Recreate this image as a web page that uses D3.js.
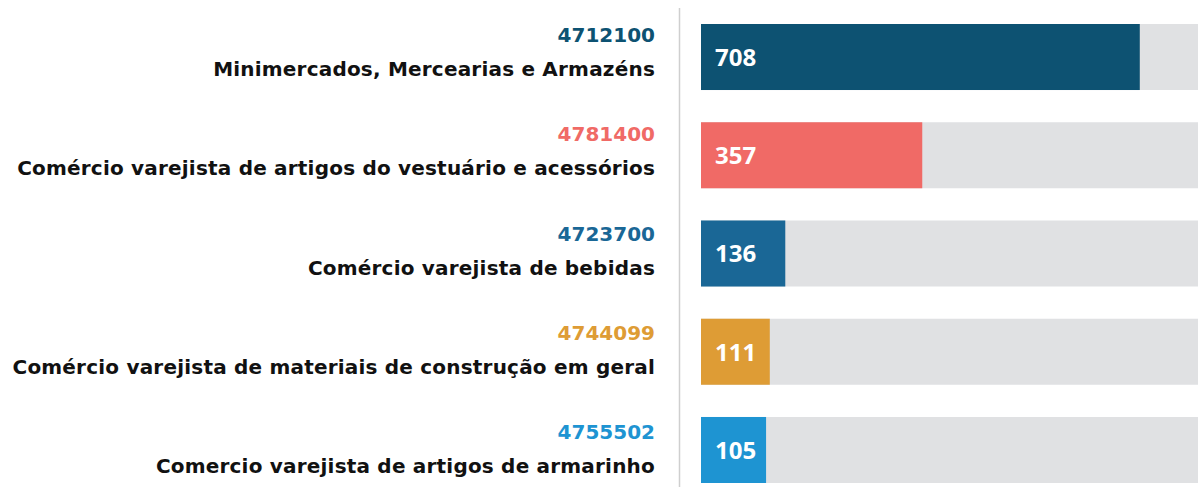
<!DOCTYPE html>
<html>
<head>
<meta charset="utf-8">
<script src="https://cdn.jsdelivr.net/npm/d3@7"></script>
<style>
  html, body { margin: 0; padding: 0; background: #fff; }
  svg { display: block; }
  text { font-family: "DejaVu Sans", sans-serif; font-weight: 700; }
  text.val { font-family: "Open Sans", sans-serif; }
</style>
</head>
<body>
<svg id="chart" width="1198" height="487"></svg>
<script>
// data
const codes = ["4712100", "4781400", "4723700", "4744099", "4755502"];
const names = [
  "Minimercados, Mercearias e Armazéns",
  "Comércio varejista de artigos do vestuário e acessórios",
  "Comércio varejista de bebidas",
  "Comércio varejista de materiais de construção em geral",
  "Comercio varejista de artigos de armarinho"
];
const values = [708, 357, 136, 111, 105];
const colors = ["#0d5272", "#f06a66", "#1a6796", "#de9c35", "#1e94d2"];

const width = 1198, height = 487;
const svg = d3.select("#chart");

// bar rows
const y = d3.scaleBand()
  .domain(codes)
  .range([24, 483])
  .paddingInner(0.328)
  .paddingOuter(0);

// label rows (code baselines)
const yl = d3.scalePoint()
  .domain(codes)
  .range([42, 439]);

const x = d3.scaleLinear()
  .domain([0, 810])
  .range([701, 1203]);

// divider line
svg.append("line")
  .attr("x1", 679.5).attr("x2", 679.5)
  .attr("y1", 8).attr("y2", height)
  .attr("stroke", "#cfcfcf")
  .attr("stroke-width", 1.5);

const row = svg.append("g")
  .selectAll("g")
  .data(codes)
  .enter()
  .append("g")
  .attr("transform", d => `translate(0,${y(d)})`);

// background track
row.append("rect")
  .attr("x", x(0))
  .attr("y", 0)
  .attr("width", width - x(0))
  .attr("height", y.bandwidth())
  .attr("fill", "#e0e1e3");

// value bar
row.append("rect")
  .attr("x", x(0))
  .attr("y", 0)
  .attr("width", (d, i) => x(values[i]) - x(0))
  .attr("height", y.bandwidth())
  .attr("fill", (d, i) => colors[i]);

row.append("text")
  .attr("class", "val")
  .attr("x", 715)
  .attr("y", y.bandwidth() / 2 + 9)
  .attr("fill", "#fff")
  .attr("font-size", 24)
  .text((d, i) => values[i]);

// labels
const lab = svg.append("g")
  .selectAll("g")
  .data(codes)
  .enter()
  .append("g")
  .attr("transform", d => `translate(655,${yl(d)})`);

lab.append("text")
  .attr("text-anchor", "end")
  .attr("fill", (d, i) => colors[i])
  .attr("font-size", 20)
  .text(d => d);

lab.append("text")
  .attr("y", 34)
  .attr("text-anchor", "end")
  .attr("fill", "#111")
  .attr("font-size", 20)
  .attr("letter-spacing", 0.2)
  .text((d, i) => names[i]);
</script>
</body>
</html>
